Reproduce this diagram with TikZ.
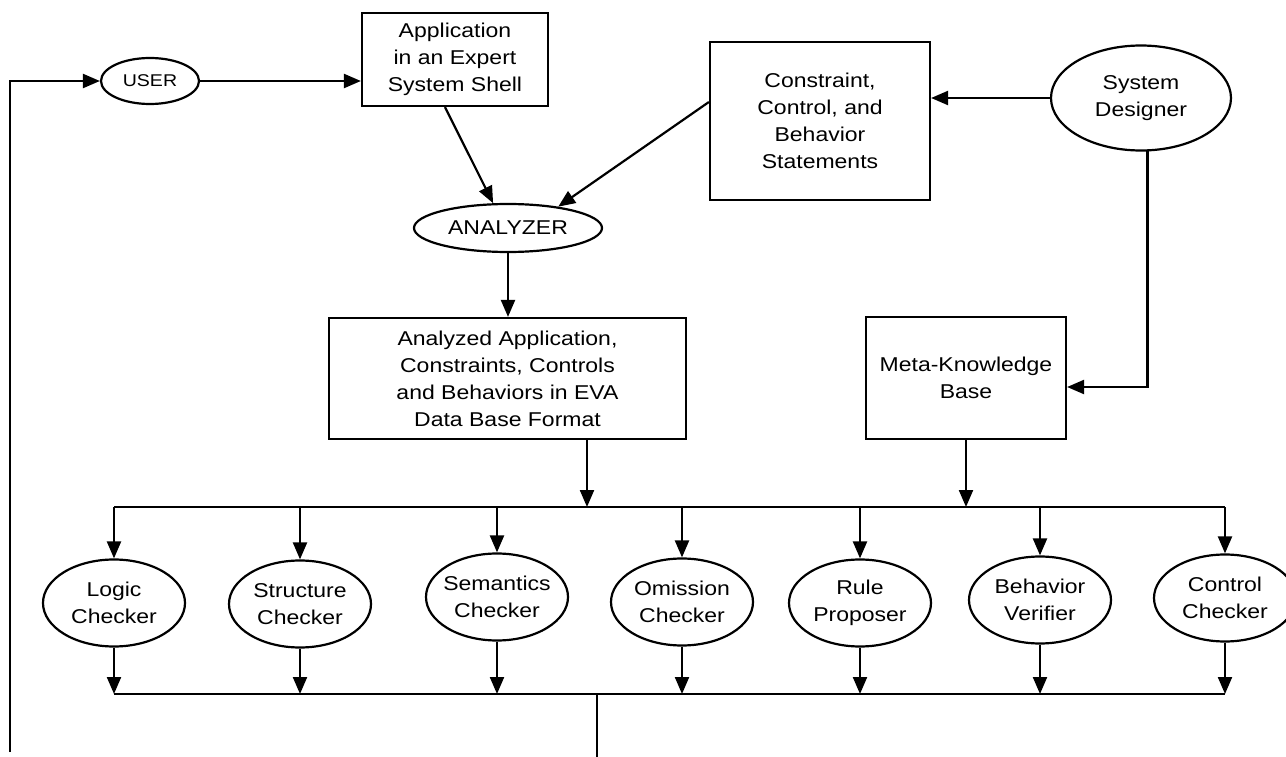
\documentclass[tikz,border=0pt]{standalone}
\usepackage{fontspec}
\setmainfont{Liberation Sans}[FakeStretch=1.15]
\usetikzlibrary{shapes.geometric,arrows.meta}
\begin{document}
\begin{tikzpicture}[x=1pt,y=-1pt,line width=2.2pt,
  txt/.style={font=\fontsize{20}{27}\selectfont, align=center},
  box/.style={draw, rectangle, inner sep=0pt, txt},
  oval/.style={draw, ellipse, inner sep=0pt, txt},
  checker/.style={oval, minimum width=142pt, minimum height=87pt},
  arr/.style={-{Triangle[length=17pt,width=14pt]}},
]
\useasboundingbox (0,0) rectangle (1286,757);
\clip (0,0) rectangle (1286,757);

% upper part
\node[oval, minimum width=98pt, minimum height=46pt, font=\fontsize{17}{20}\selectfont] (user) at (150,81) {USER};
\node[box, minimum width=186pt, minimum height=93pt] (app) at (455,59.5) {Application\\in an Expert\\System Shell};
\node[box, minimum width=220pt, minimum height=158pt] (cons) at (820,121) {Constraint,\\Control, and\\Behavior\\Statements};
\node[oval, minimum width=180pt, minimum height=105pt] (sd) at (1141,98) {System\\Designer};
\node[oval, minimum width=188pt, minimum height=48pt] (an) at (508,228) {ANALYZER};
\node[box, minimum width=357pt, minimum height=121pt] (ana) at (507.5,378.5) {Analyzed Application,\\Constraints, Controls\\and Behaviors in EVA\\Data Base Format};
\node[box, minimum width=200pt, minimum height=122pt] (meta) at (966,378) {Meta-Knowledge\\Base};

% checkers
\node[checker, label={[txt]center:Logic\\Checker}] (logic) at (114,603) {};
\node[checker, label={[txt]center:Structure\\Checker}] (struct) at (300,604) {};
\node[checker, label={[txt]center:Semantics\\Checker}] (sem) at (497,597) {};
\node[checker, label={[txt]center:Omission\\Checker}] (omis) at (682,602) {};
\node[checker, label={[txt]center:Rule\\Proposer}] (rule) at (860,603) {};
\node[checker, label={[txt]center:Behavior\\Verifier}] (behav) at (1040,600) {};
\node[checker, label={[txt]center:Control\\Checker}] (control) at (1225,598) {};

% connectors
\coordinate (fb) at (10,752);
\draw[arr] (fb) |- (user.west);
\draw[arr] (user.east) -- (app.west |- user.east);
\draw[arr] ([xshift=-10pt]app.south) -- (an.121);
\draw[arr] ([yshift=19pt]cons.west) -- (an.23);
\draw[arr] (sd.west) -- (sd.west -| cons.east);
\draw[arr] (sd.-83.5) |- ([yshift=-9pt]meta.east);
\draw[arr] (an.south) -- (an.south |- ana.north);

\coordinate (tb) at (587,507);
\draw[arr] (tb |- ana.south) -- (tb);
\draw[arr] (meta.south) -- (meta.south |- tb);
\draw (logic.north |- tb) -- (control.north |- tb);
\foreach \n in {logic,struct,sem,omis,rule,behav,control}
  \draw[arr] (\n.north |- tb) -- (\n.north);

\coordinate (bb) at (597,694);
\coordinate (out) at (597,757);
\foreach \n in {logic,struct,sem,omis,rule,behav,control}
  \draw[arr] (\n.south) -- (\n.south |- bb);
\draw (logic.south |- bb) -- (control.south |- bb);
\draw (bb) -- (out);
\end{tikzpicture}
\end{document}
